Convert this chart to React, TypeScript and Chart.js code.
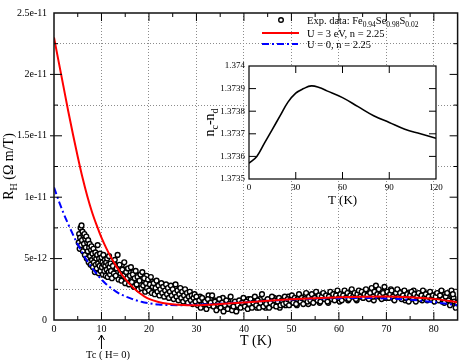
import React, { useEffect, useRef } from "react";
import { Chart, registerables } from "chart.js";

Chart.register(...registerables);

const FONT = "'Liberation Serif', 'Times New Roman', serif";

// Model curves (R_H in units of 1e-12 Ω m/T)
const curveT = [0, 1, 2, 3, 4, 5, 6, 7, 8, 9, 10, 11, 12, 13, 14, 15, 16, 17, 18, 19, 20, 22, 24, 26, 28, 30, 35, 40, 45, 50, 55, 60, 65, 70, 75, 80, 85];
const redR = [23.0, 21.0, 19.0, 17.0, 15.1, 13.3, 11.6, 10.1, 8.8, 7.7, 6.7, 5.85, 5.1, 4.45, 3.85, 3.35, 2.9, 2.52, 2.2, 1.93, 1.72, 1.47, 1.32, 1.24, 1.2, 1.2, 1.3, 1.43, 1.56, 1.68, 1.78, 1.85, 1.9, 1.92, 1.86, 1.72, 1.45];
const blueR = [10.8, 9.7, 8.7, 7.8, 6.95, 6.15, 5.45, 4.8, 4.25, 3.75, 3.3, 2.92, 2.6, 2.33, 2.1, 1.93, 1.78, 1.64, 1.52, 1.43, 1.36, 1.26, 1.22, 1.2, 1.22, 1.25, 1.33, 1.44, 1.56, 1.66, 1.74, 1.78, 1.8, 1.76, 1.65, 1.45, 1.2];

// Experimental data [T (K), R_H (1e-12)] – first sweep
const expPoints: [number, number][] = [
  [5.2, 6.3], [5.3, 7.0], [5.4, 5.8], [5.5, 6.7], [5.6, 7.5], [5.7, 6.1], [5.8, 7.7], [5.9, 6.5], [6.0, 7.2], [6.1, 5.6],
  [6.2, 6.9], [6.3, 6.2], [6.4, 7.0], [6.5, 5.3], [6.6, 6.6], [6.7, 5.9], [6.8, 6.8], [6.9, 5.0], [7.0, 6.3], [7.1, 5.6],
  [7.2, 6.5], [7.3, 4.7], [7.4, 5.9], [7.5, 6.2], [7.6, 5.2], [7.7, 4.5], [7.8, 5.7], [7.9, 6.0], [8.0, 4.9], [8.1, 5.4],
  [8.2, 4.3], [8.3, 5.8], [8.4, 4.7], [8.5, 5.1], [8.6, 3.9], [8.7, 5.5], [8.8, 4.5], [8.9, 5.0], [9.0, 4.2], [9.1, 5.3],
  [9.2, 6.1], [9.3, 4.6], [9.4, 3.8], [9.5, 5.0], [9.6, 4.4], [9.7, 5.4], [9.8, 4.0], [9.9, 4.8], [10.0, 5.1], [10.1, 4.3],
  [10.2, 4.7], [10.3, 3.7], [10.4, 5.3], [10.5, 4.5], [10.6, 4.0], [10.7, 4.9], [10.8, 4.4], [10.9, 3.6], [11.0, 4.7], [11.1, 4.1],
  [11.2, 5.0], [11.3, 3.5], [11.4, 4.5], [11.5, 3.9], [11.6, 5.2], [11.7, 4.3], [11.8, 3.7], [11.9, 4.6], [12.0, 4.0],
  [12.2, 3.4], [12.4, 4.4], [12.6, 3.8], [12.8, 4.9], [13.0, 3.6], [13.2, 4.2], [13.4, 5.3], [13.6, 3.3], [13.8, 4.5], [14.0, 3.8],
  [14.2, 3.2], [14.4, 4.1], [14.6, 3.6], [14.8, 4.7], [15.0, 3.0], [15.2, 3.9], [15.4, 3.4], [15.6, 4.2], [15.8, 2.9], [16.0, 3.6],
  [16.2, 4.3], [16.4, 3.1], [16.6, 3.7], [16.8, 2.7], [17.0, 3.4], [17.2, 4.0], [17.4, 2.9], [17.6, 3.5], [17.8, 2.5], [18.0, 3.2],
  [18.2, 3.7], [18.4, 2.6], [18.6, 3.9], [18.8, 2.8], [19.0, 3.4], [19.2, 2.3], [19.4, 3.0], [19.6, 2.6], [19.8, 3.3], [20.0, 2.4],
  [20.2, 2.9], [20.4, 3.5], [20.6, 2.2], [20.8, 2.7], [21.0, 3.0], [21.2, 2.1], [21.4, 2.6], [21.6, 3.2], [21.8, 2.3], [22.0, 2.8],
  [22.2, 2.0], [22.4, 2.5], [22.6, 3.0], [22.8, 2.2], [23.0, 2.7], [23.2, 1.9], [23.4, 2.4], [23.6, 2.9], [23.8, 2.1], [24.0, 2.6],
  [24.2, 1.8], [24.4, 2.3], [24.6, 2.8], [24.8, 2.0], [25.0, 2.5], [25.2, 1.7], [25.4, 2.2], [25.6, 2.9], [25.8, 1.9], [26.0, 2.4],
  [26.2, 1.6], [26.4, 2.1], [26.6, 2.6], [26.8, 1.8], [27.0, 2.3], [27.2, 1.5], [27.4, 2.0], [27.6, 2.5], [27.8, 1.7], [28.0, 2.2],
  [28.2, 1.4], [28.4, 1.9], [28.6, 2.3], [28.8, 1.6], [29.0, 2.0], [29.2, 1.3], [29.4, 1.8], [29.6, 2.1], [29.8, 1.5], [30.0, 1.9],
  [30.3, 1.2], [30.6, 1.6], [30.9, 1.0], [31.2, 1.8], [31.5, 1.3], [31.8, 1.5], [32.1, 0.9], [32.4, 1.7], [32.7, 1.2], [33.0, 1.4],
  [33.3, 2.0], [33.6, 1.1], [33.9, 1.5], [34.2, 0.8], [34.5, 1.3], [34.8, 1.7], [35.1, 1.0], [35.4, 1.4], [35.7, 0.7], [36.0, 1.2],
  [36.3, 1.6], [36.6, 0.9], [36.9, 1.3], [37.2, 1.9], [37.5, 0.8], [37.8, 1.1], [38.1, 1.5], [38.4, 0.7], [38.7, 1.2], [39.0, 1.6],
  [39.3, 1.0], [39.6, 1.4], [39.9, 1.8], [40.2, 1.1], [40.5, 1.5], [40.8, 0.9], [41.1, 1.3], [41.4, 1.7], [41.7, 1.0], [42.0, 1.4],
  [42.3, 1.9], [42.6, 1.2], [42.9, 1.6], [43.2, 1.0], [43.5, 1.4], [43.8, 2.1], [44.1, 1.1], [44.4, 1.5], [44.7, 1.3], [45.0, 1.7],
  [45.3, 1.0], [45.6, 1.4], [45.9, 1.9], [46.2, 1.2], [46.5, 1.6], [46.8, 1.1], [47.1, 1.5], [47.4, 1.8], [47.7, 1.2], [48.0, 1.6],
  [48.3, 1.3], [48.6, 1.9], [48.9, 1.4], [49.2, 1.7], [49.5, 1.2], [49.8, 1.6], [50.1, 2.0], [50.4, 1.4], [50.7, 1.8], [51.0, 1.3],
  [51.3, 1.7], [51.6, 2.1], [51.9, 1.5], [52.2, 1.8], [52.5, 1.3], [52.8, 1.7], [53.1, 2.2], [53.4, 1.5], [53.7, 1.9], [54.0, 1.6],
  [54.3, 2.1], [54.6, 1.4], [54.9, 1.8], [55.2, 2.3], [55.5, 1.6], [55.8, 2.0], [56.1, 1.5], [56.4, 1.9], [56.7, 2.2], [57.0, 1.7],
  [57.3, 2.0], [57.6, 1.5], [57.9, 1.9], [58.2, 2.3], [58.5, 1.7], [58.8, 2.1], [59.1, 1.6], [59.4, 2.0], [59.7, 2.4], [60.0, 1.8],
  [60.3, 2.1], [60.6, 1.6], [60.9, 2.0], [61.2, 2.4], [61.5, 1.8], [61.8, 2.2], [62.1, 1.7], [62.4, 2.0], [62.7, 2.5], [63.0, 1.9],
  [63.3, 2.2], [63.6, 1.7], [63.9, 2.1], [64.2, 2.4], [64.5, 1.9], [64.8, 2.3], [65.1, 1.8], [65.4, 2.1], [65.7, 2.5], [66.0, 2.0],
  [66.3, 1.7], [66.6, 2.2], [66.9, 2.6], [67.2, 1.9], [67.5, 2.3], [67.8, 2.8], [68.1, 2.1], [68.4, 2.5], [68.7, 2.0], [69.0, 1.7],
  [69.3, 2.2], [69.6, 2.7], [69.9, 1.9], [70.2, 2.3], [70.5, 1.8], [70.8, 2.1], [71.1, 2.4], [71.4, 1.9], [71.7, 1.6], [72.0, 2.2],
  [72.3, 2.5], [72.6, 1.9], [72.9, 2.2], [73.2, 1.7], [73.5, 2.0], [73.8, 2.4], [74.1, 1.8], [74.4, 2.1], [74.7, 1.5], [75.0, 2.0],
  [75.3, 2.3], [75.6, 1.8], [75.9, 2.1], [76.2, 1.5], [76.5, 1.9], [76.8, 2.2], [77.1, 1.7], [77.4, 2.0], [77.7, 2.4], [78.0, 1.8],
  [78.3, 2.1], [78.6, 1.6], [78.9, 1.9], [79.2, 2.3], [79.5, 1.7], [79.8, 2.0], [80.1, 1.5], [80.4, 1.9], [80.7, 2.2], [81.0, 1.6],
  [81.3, 2.0], [81.6, 2.4], [81.9, 1.7], [82.2, 1.4], [82.5, 1.9], [82.8, 2.2], [83.1, 1.6], [83.4, 1.2], [83.7, 2.4], [84.0, 2.1],
  [84.3, 1.5], [84.6, 1.0], [84.9, 1.4],
];

// Experimental data – second sweep (interleaved)
const expPoints2: [number, number][] = [
  [12.3, 4.0], [12.7, 4.6], [13.1, 3.9], [13.5, 4.4], [13.9, 3.5], [14.3, 4.5], [14.7, 3.3], [15.1, 4.1], [15.5, 3.6], [15.9, 3.9],
  [16.3, 3.3], [16.7, 3.9], [17.1, 3.0], [17.5, 3.6], [17.9, 3.1], [18.3, 2.9], [18.7, 3.4], [19.1, 2.7], [19.5, 3.6], [19.9, 2.8],
  [20.3, 2.5], [20.7, 3.1], [21.1, 2.6], [21.5, 2.9], [21.9, 2.4], [22.3, 2.7], [22.7, 2.3], [23.1, 2.6], [23.5, 2.2], [23.9, 2.5],
  [24.3, 2.1], [24.7, 2.4], [25.1, 2.0], [25.5, 2.6], [25.9, 2.2], [26.3, 1.9], [26.7, 2.3], [27.1, 1.8], [27.5, 2.2], [27.9, 1.9],
  [28.3, 1.6], [28.7, 2.0], [29.1, 1.7], [29.5, 1.5], [29.9, 1.8],
  [30.15, 1.5], [30.75, 1.9], [31.35, 1.1], [31.95, 1.4], [32.55, 2.0], [33.15, 1.2], [33.75, 1.6], [34.35, 1.0], [34.95, 1.4], [35.55, 1.8],
  [36.15, 1.0], [36.75, 1.5], [37.35, 1.2], [37.95, 0.9], [38.55, 1.4], [39.15, 1.1], [39.75, 1.5], [40.35, 1.3], [40.95, 1.7], [41.55, 1.1],
  [42.15, 1.5], [42.75, 1.0], [43.35, 1.7], [43.95, 1.3], [44.55, 1.0], [45.15, 1.5], [45.75, 1.2], [46.35, 1.8], [46.95, 1.4], [47.55, 1.0],
  [48.15, 1.5], [48.75, 1.2], [49.35, 1.9], [49.95, 1.4], [50.55, 1.6], [51.15, 1.2], [51.75, 1.9], [52.35, 1.5], [52.95, 2.0], [53.55, 1.3],
  [54.15, 1.8], [54.75, 1.6], [55.35, 1.9], [55.95, 1.4], [56.55, 2.1], [57.15, 1.8], [57.75, 1.4], [58.35, 2.0], [58.95, 1.7], [59.55, 2.2],
  [60.15, 1.5], [60.75, 1.9], [61.35, 2.2], [61.95, 1.6], [62.55, 2.3], [63.15, 2.0], [63.75, 1.6], [64.35, 2.2], [64.95, 1.9], [65.55, 2.4],
  [66.15, 1.8], [66.75, 2.1], [67.35, 1.6], [67.95, 2.4], [68.55, 1.9], [69.15, 2.3], [69.75, 1.8], [70.35, 2.0], [70.95, 2.5], [71.55, 1.7],
  [72.15, 2.0], [72.75, 2.3], [73.35, 1.9], [73.95, 1.6], [74.55, 2.2], [75.15, 1.7], [75.75, 2.4], [76.35, 1.8], [76.95, 2.0], [77.55, 1.6],
  [78.15, 2.2], [78.75, 1.8], [79.35, 2.0], [79.95, 1.6], [80.55, 2.1], [81.15, 1.8], [81.75, 1.5], [82.35, 2.1], [82.95, 1.8], [83.55, 1.5],
  [84.15, 1.8], [84.75, 1.2],
];

// Main axis ticks
const yTickValues = [0, 5, 10, 15, 20, 25];
const yTickLabels = ["0", "5e-12", "1e-11", "1.5e-11", "2e-11", "2.5e-11"];
const xMajorTicks = [10, 20, 30, 40, 50, 60, 70, 80];
const xMinorTicks = [5, 15, 25, 35, 45, 55, 65, 75];
const yMajorTicks = [5, 10, 15, 20];
const yMinorTicks = [2.5, 7.5, 12.5, 17.5, 22.5];

// Inset: n_c - n_d vs T
const insetT = [0, 5, 10, 15, 20, 25, 30, 35, 40, 45, 50, 60, 70, 80, 90, 100, 110, 120];
const insetN = [1.37357, 1.3736, 1.37366, 1.37372, 1.37378, 1.37384, 1.37388, 1.3739, 1.373912, 1.373905, 1.37389, 1.37386, 1.37382, 1.37378, 1.37375, 1.37372, 1.3737, 1.37368];
const insetXTicks = [30, 60, 90];
const insetYTicks = [1.3736, 1.3737, 1.3738, 1.3739];

type Part = { t: string; sub?: boolean };

function drawRich(ctx: CanvasRenderingContext2D, parts: Part[], x: number, y: number, size: number, subSize: number, align: "left" | "center") {
  let w = 0;
  for (const p of parts) {
    ctx.font = `${p.sub ? subSize : size}px ${FONT}`;
    w += ctx.measureText(p.t).width;
  }
  let cx = align === "center" ? x - w / 2 : x;
  ctx.textAlign = "left";
  ctx.textBaseline = "alphabetic";
  for (const p of parts) {
    ctx.font = `${p.sub ? subSize : size}px ${FONT}`;
    ctx.fillText(p.t, cx, p.sub ? y + size * 0.3 : y);
    cx += ctx.measureText(p.t).width;
  }
}

function seg(ctx: CanvasRenderingContext2D, x1: number, y1: number, x2: number, y2: number) {
  ctx.beginPath();
  ctx.moveTo(x1, y1);
  ctx.lineTo(x2, y2);
  ctx.stroke();
}

const mainDecor = {
  id: "mainDecor",
  afterDraw(chart: any) {
    const { ctx, chartArea: a, scales } = chart;
    const xs = scales.x;
    const ys = scales.y;
    ctx.save();
    ctx.setLineDash([]);
    ctx.strokeStyle = "#000";
    ctx.lineWidth = 1;
    xMajorTicks.forEach((v) => {
      const p = xs.getPixelForValue(v);
      seg(ctx, p, a.bottom, p, a.bottom - 8);
      seg(ctx, p, a.top, p, a.top + 8);
    });
    xMinorTicks.forEach((v) => {
      const p = xs.getPixelForValue(v);
      seg(ctx, p, a.bottom, p, a.bottom - 4);
      seg(ctx, p, a.top, p, a.top + 4);
    });
    yMajorTicks.forEach((v) => {
      const p = ys.getPixelForValue(v);
      seg(ctx, a.left - 4, p, a.left + 8, p);
      seg(ctx, a.right - 8, p, a.right, p);
    });
    yMinorTicks.forEach((v) => {
      const p = ys.getPixelForValue(v);
      seg(ctx, a.left, p, a.left + 4, p);
      seg(ctx, a.right - 4, p, a.right, p);
    });
    ctx.lineWidth = 1.5;
    ctx.strokeStyle = "#111";
    ctx.strokeRect(a.left, a.top, a.right - a.left, a.bottom - a.top);

    // legend
    ctx.beginPath();
    ctx.arc(281, 20, 2.3, 0, Math.PI * 2);
    ctx.fillStyle = "#fff";
    ctx.fill();
    ctx.lineWidth = 1.4;
    ctx.strokeStyle = "#000";
    ctx.stroke();
    ctx.fillStyle = "#000";
    drawRich(ctx, [{ t: "Exp. data: Fe" }, { t: "0.94", sub: true }, { t: "Se" }, { t: "0.98", sub: true }, { t: "S" }, { t: "0.02", sub: true }], 307, 24, 10.5, 7.5, "left");
    ctx.lineWidth = 2;
    ctx.strokeStyle = "#ff0000";
    seg(ctx, 262, 33, 299, 33);
    drawRich(ctx, [{ t: "U = 3 eV, n = 2.25" }], 307, 37, 10.5, 7.5, "left");
    ctx.strokeStyle = "#0000ff";
    ctx.setLineDash([7, 3, 2, 3]);
    seg(ctx, 262, 44, 298, 44);
    ctx.setLineDash([]);
    drawRich(ctx, [{ t: "U = 0, n = 2.25" }], 307, 48, 10.5, 7.5, "left");

    // y axis title
    ctx.save();
    ctx.translate(13, (a.top + a.bottom) / 2);
    ctx.rotate(-Math.PI / 2);
    drawRich(ctx, [{ t: "R" }, { t: "H", sub: true }, { t: " (Ω m/T)" }], 0, 0, 14, 10, "center");
    ctx.restore();

    // Tc annotation
    const px = xs.getPixelForValue(10);
    ctx.strokeStyle = "#000";
    ctx.lineWidth = 1;
    seg(ctx, px, 349, px, 335);
    seg(ctx, px - 3, 340, px, 335);
    seg(ctx, px + 3, 340, px, 335);
    drawRich(ctx, [{ t: "Tc ( H= 0)" }], 86, 358, 10.5, 7.5, "left");
    ctx.restore();
  },
};

const insetDecor = {
  id: "insetDecor",
  beforeDraw(chart: any) {
    const { ctx, chartArea: a } = chart;
    ctx.save();
    ctx.fillStyle = "#fff";
    ctx.fillRect(a.left, a.top, a.right - a.left, a.bottom - a.top);
    ctx.restore();
  },
  afterDraw(chart: any) {
    const { ctx, chartArea: a, scales } = chart;
    const xs = scales.x;
    const ys = scales.y;
    ctx.save();
    ctx.setLineDash([]);
    ctx.strokeStyle = "#000";
    ctx.lineWidth = 1;
    insetXTicks.forEach((v) => {
      const p = xs.getPixelForValue(v);
      seg(ctx, p, a.bottom, p, a.bottom - 7);
      seg(ctx, p, a.top, p, a.top + 7);
    });
    insetYTicks.forEach((v) => {
      const p = ys.getPixelForValue(v);
      seg(ctx, a.left, p, a.left + 7, p);
      seg(ctx, a.right - 7, p, a.right, p);
    });
    ctx.lineWidth = 1.2;
    ctx.strokeRect(a.left, a.top, a.right - a.left, a.bottom - a.top);
    ctx.fillStyle = "#000";
    ctx.translate(14, (a.top + a.bottom) / 2);
    ctx.rotate(-Math.PI / 2);
    drawRich(ctx, [{ t: "n" }, { t: "c", sub: true }, { t: "-n" }, { t: "d", sub: true }], 0, 0, 14, 10, "center");
    ctx.restore();
  },
};

export default function App() {
  const mainRef = useRef<HTMLCanvasElement>(null);
  const insetRef = useRef<HTMLCanvasElement>(null);

  useEffect(() => {
    const scatterStyle = {
      showLine: false,
      pointRadius: 2.4,
      pointBorderWidth: 1.4,
      borderColor: "#000",
      backgroundColor: "#fff",
      order: 3,
    };
    const main = new Chart(mainRef.current as HTMLCanvasElement, {
      type: "scatter",
      data: {
        datasets: [
          {
            label: "U = 3 eV, n = 2.25",
            data: curveT.map((t, i) => ({ x: t, y: redR[i] })),
            showLine: true,
            borderColor: "#ff0000",
            borderWidth: 2,
            pointRadius: 0,
            cubicInterpolationMode: "monotone",
            fill: false,
            order: 1,
          } as any,
          {
            label: "U = 0, n = 2.25",
            data: curveT.map((t, i) => ({ x: t, y: blueR[i] })),
            showLine: true,
            borderColor: "#0000ff",
            borderWidth: 2,
            borderDash: [7, 3, 2, 3],
            pointRadius: 0,
            cubicInterpolationMode: "monotone",
            fill: false,
            order: 2,
          } as any,
          {
            label: "Exp. data",
            data: expPoints.map(([x, y]) => ({ x, y })),
            ...scatterStyle,
          } as any,
          {
            label: "Exp. data (2)",
            data: expPoints2.map(([x, y]) => ({ x, y })),
            ...scatterStyle,
          } as any,
        ],
      },
      options: {
        responsive: false,
        animation: false,
        events: [],
        layout: { padding: { left: 0, right: 1, top: 5, bottom: 0 } },
        plugins: { legend: { display: false }, tooltip: { enabled: false } },
        scales: {
          x: {
            type: "linear",
            min: 0,
            max: 85,
            afterFit: (s: any) => {
              s.height = 40;
            },
            ticks: {
              stepSize: 10,
              autoSkip: false,
              maxRotation: 0,
              color: "#000",
              padding: 3,
              font: { family: FONT, size: 10 },
              callback: (v: any) => (Number(v) % 10 === 0 ? String(v) : ""),
            },
            grid: {
              drawTicks: false,
              lineWidth: 1,
              color: (c: any) => {
                const v = c.tick ? c.tick.value : 0;
                return v > 0 && v < 85 && v % 10 === 0 ? "#8c8c8c" : "rgba(0,0,0,0)";
              },
            },
            border: { display: false, dash: [1, 2] },
            title: {
              display: true,
              text: "T (K)",
              color: "#000",
              font: { family: FONT, size: 14 },
              padding: { top: 0, bottom: 10 },
            },
          },
          y: {
            type: "linear",
            min: 0,
            max: 25,
            afterFit: (s: any) => {
              s.width = 54;
            },
            ticks: {
              stepSize: 2.5,
              autoSkip: false,
              color: "#000",
              padding: 7,
              font: { family: FONT, size: 10 },
              callback: (v: any) => {
                const i = yTickValues.findIndex((t) => Math.abs(t - Number(v)) < 1e-6);
                return i >= 0 ? yTickLabels[i] : "";
              },
            },
            grid: {
              drawTicks: false,
              lineWidth: 1,
              color: (c: any) => {
                const v = c.tick ? c.tick.value : 0;
                return yMinorTicks.some((t) => Math.abs(t - v) < 1e-6) ? "#8c8c8c" : "rgba(0,0,0,0)";
              },
            },
            border: { display: false, dash: [1, 2] },
          },
        },
      } as any,
      plugins: [mainDecor],
    });

    const inset = new Chart(insetRef.current as HTMLCanvasElement, {
      type: "scatter",
      data: {
        datasets: [
          {
            label: "n_c - n_d",
            data: insetT.map((t, i) => ({ x: t, y: insetN[i] })),
            showLine: true,
            borderColor: "#000",
            borderWidth: 1.6,
            pointRadius: 0,
            tension: 0.4,
            fill: false,
          } as any,
        ],
      },
      options: {
        responsive: false,
        animation: false,
        events: [],
        layout: { padding: { left: 0, right: 14, top: 11, bottom: 0 } },
        plugins: { legend: { display: false }, tooltip: { enabled: false } },
        scales: {
          x: {
            type: "linear",
            min: 0,
            max: 120,
            afterFit: (s: any) => {
              s.height = 36;
            },
            ticks: {
              stepSize: 30,
              autoSkip: false,
              maxRotation: 0,
              color: "#000",
              padding: 3,
              font: { family: FONT, size: 9 },
            },
            grid: { display: false, drawTicks: false },
            border: { display: false },
            title: {
              display: true,
              text: "T (K)",
              color: "#000",
              font: { family: FONT, size: 13 },
              padding: { top: 0, bottom: 7 },
            },
          },
          y: {
            type: "linear",
            min: 1.3735,
            max: 1.374,
            afterFit: (s: any) => {
              s.width = 49;
            },
            ticks: {
              stepSize: 0.0001,
              autoSkip: false,
              color: "#000",
              padding: 4,
              font: { family: FONT, size: 9 },
              callback: (v: any) => String(parseFloat(Number(v).toFixed(4))),
            },
            grid: { display: false, drawTicks: false },
            border: { display: false },
          },
        },
      } as any,
      plugins: [insetDecor],
    });

    return () => {
      main.destroy();
      inset.destroy();
    };
  }, []);

  return (
    <div style={{ position: "absolute", left: 0, top: 0, width: 463, height: 360, background: "#fff" }}>
      <canvas ref={mainRef} width={463} height={360} style={{ position: "absolute", left: 0, top: 0 }} />
      <canvas ref={insetRef} width={250} height={160} style={{ position: "absolute", left: 200, top: 55 }} />
    </div>
  );
}
